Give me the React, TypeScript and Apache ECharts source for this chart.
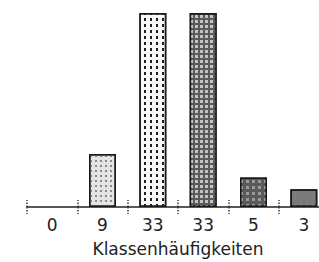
import React, { useEffect, useRef } from "react";
import * as echarts from "echarts";

const categories = ["0", "9", "33", "33", "5", "3"];
const values = [0, 9, 33, 33, 5, 3];
const axisTitle = "Klassenhäufigkeiten";

const fills = ["#ffffff", "#e4e4e4", "#f8f8f8", "#5a5a5a", "#5a5a5a", "#7a7a7a"];
const decals = [
  { symbol: "rect", symbolSize: 1, dashArrayX: [2, 4], dashArrayY: [2, 4], color: "#ffffff" },
  { symbol: "rect", symbolSize: 1, dashArrayX: [2, 3], dashArrayY: [2, 3], color: "#8a8a8a" },
  { symbol: "rect", symbolSize: 1, dashArrayX: [2, 4], dashArrayY: [3, 3], color: "#1e1e1e" },
  { symbol: "rect", symbolSize: 1, dashArrayX: [3, 2], dashArrayY: [3, 2], color: "#c4c4c4" },
  { symbol: "rect", symbolSize: 1, dashArrayX: [3, 3], dashArrayY: [3, 3], color: "#9a9a9a" },
  { symbol: "rect", symbolSize: 1, dashArrayX: [2, 4], dashArrayY: [2, 4], color: "#7e7e7e" },
];

export default function App() {
  const ref = useRef<HTMLDivElement>(null);
  useEffect(() => {
    const chart = echarts.init(ref.current!, null, { renderer: "svg" });
    chart.setOption({
      animation: false,
      aria: { enabled: true, decal: { show: true } },
      grid: { left: 27, right: 11, top: 13, bottom: 54 },
      xAxis: [
        {
          type: "category",
          data: categories,
          axisLine: { show: true, lineStyle: { color: "#222", width: 1.5 } },
          axisTick: { show: true, length: 7, lineStyle: { color: "#333", width: 1.5, type: "dotted" } },
          axisLabel: {
            margin: 9,
            fontFamily: "DejaVu Sans",
            fontSize: 17,
            color: "#222",
            formatter: (_v: string, i: number) => categories[i],
          },
          name: axisTitle,
          nameLocation: "middle",
          nameGap: 33,
          nameTextStyle: { fontFamily: "DejaVu Sans", fontSize: 17, color: "#222" },
        },
        {
          type: "category",
          data: categories,
          position: "bottom",
          axisLine: { show: false },
          axisTick: { show: true, inside: true, length: 7, lineStyle: { color: "#333", width: 1.5, type: "dotted" } },
          axisLabel: { show: false },
        },
      ],
      yAxis: { type: "value", min: 0, max: 33, show: false },
      series: [
        {
          type: "bar",
          xAxisIndex: 0,
          barWidth: 27,
          data: values.map((v, i) => ({
            value: v,
            itemStyle: {
              color: fills[i],
              borderColor: "#1a1a1a",
              borderWidth: v === 0 ? 0 : 1.5,
              decal: decals[i],
            },
          })),
        },
      ],
    });
    return () => chart.dispose();
  }, []);
  return (
    <div
      ref={ref}
      style={{ position: "fixed", left: 0, top: 0, width: 340, height: 262, background: "#fff" }}
    />
  );
}
